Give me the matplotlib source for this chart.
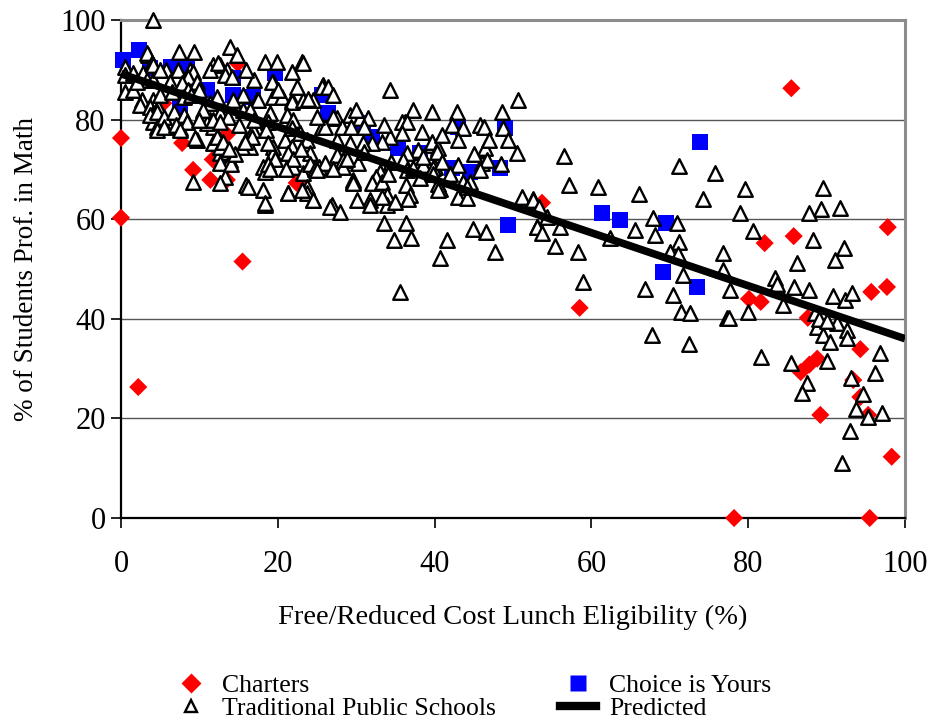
import numpy as np
import matplotlib
matplotlib.use("Agg")
import matplotlib.pyplot as plt
from matplotlib.lines import Line2D

plt.rcParams['font.family'] = ['Liberation Serif', 'DejaVu Serif']

# Charter schools (red diamonds)
charter_x = [0, 0, 2.2, 5.4, 7.8, 9.2, 11.4, 11.7, 13.5, 13.5, 14.9, 15.5, 22.4,
             53.7, 58.5, 85.5, 82.1, 85.8, 97.8, 80.1, 81.6, 87.6, 86.7, 87.8,
             88.8, 89.2, 93.4, 94.3, 95.3, 94.3, 98.3, 78.2, 95.5, 95.7, 97.7]
charter_y = [76.3, 60.3, 26.3, 83.3, 75.3, 69.9, 67.9, 72, 77, 67.9, 91.3, 51.5, 67.3,
             63.3, 42.2, 86.3, 55.2, 56.6, 58.4, 44, 43.4, 40.2, 29.3, 30.8,
             32, 20.7, 27.7, 24.3, 20.7, 33.9, 12.3, 0, 0, 45.4, 46.4]

# Choice is Yours schools (blue squares)
choice_x = [0.3, 2.3, 3.7, 6.4, 8.4, 7.5, 11, 14.3, 14.3, 16.8, 19.6, 25.6, 26.4,
            30.9, 32, 35.3, 38.1, 43, 42.2, 44.5, 48.3, 49, 49.4, 61.4, 63.6,
            69.5, 69.1, 73.5, 73.9]
choice_y = [92, 94, 90.4, 90.6, 90.6, 82.5, 86, 88.3, 85, 84.5, 89.3, 85, 81.3,
            79.3, 76.5, 74.3, 73.3, 78.5, 70.3, 69.5, 70.3, 78.3, 58.8, 61.2, 59.8,
            59.2, 49.4, 46.4, 75.5]

# Traditional public schools (open triangles)
trad_x = [
    4.1, 3.5, 3.3, 7.4, 9.3, 13.9, 14.8, 11.7, 12.6, 18.4, 19.9, 23.1, 21.8, 0.5, 0.5,
    1.5, 2.8, 3.9, 4.1, 5.8, 7.3, 8.8, 9.2, 8.6, 3.3, 4.1, 6.3, 7.8, 9.7, 11.4, 12.4,
    13.5, 13.3, 14.2, 15.6, 17.3, 17.5, 19.4, 19.3, 19.4, 20.5, 21.8, 21.8, 23.2, 24.5,
    23.8, 2.7, 2.4, 4.1, 3.7, 4.1, 4.7, 5.4, 4.1, 7.5, 4.6, 9.7, 9.4, 11.7, 13, 12.6,
    13.7, 11.7, 11.4, 12.6, 13.7, 11.4, 12.2, 14.3, 15.6, 16.5, 16, 16.5, 13.9, 12.6,
    13.3, 12.6, 9.2, 16, 16.2, 18.1, 18.4, 18.1, 18.4, 18.4, 19.4, 19.4, 20.9, 21.8,
    19, 18.8, 21.2, 21.9, 21.8, 22.8, 23.7, 24.1, 21.9, 23.2, 21.3, 23.7, 23.7, 24.5,
    8.5, 16.8, 18.5, 5, 6.5, 8, 8.9, 3.7, 4.6, 5.5, 6.8, 8, 8.4, 4.6, 5.5, 7, 7.5,
    12.2, 12.6, 13, 11, 11.7, 12.6, 15.4, 16.7, 15.8, 18.8, 19.6, 18.8, 19, 21.3, 22,
    21, 23, 24.1, 24.7, 25.3, 14, 14.5, 13.8, 21.3, 23.1, 26.9, 5, 0.5, 1.5, 2, 10,
    10.5, 10, 15, 17, 20, 22.5, 17, 16,
    23.2, 25.8, 25.6, 26.4, 34.3, 37.2, 39.7, 42.9, 48.6, 50.6, 36.2, 35.8, 36.5, 38.4,
    42.2, 43.6, 45.8, 46.3, 48.7, 43, 49.4, 50.5, 46.4, 39.7, 39.7, 40.4, 40.3, 37.9,
    37.9, 36.5, 34.3, 35.8, 33.3, 32, 30.9, 29.2, 27.5, 29.2, 30.5, 31.5, 27.5, 28.2,
    27, 25.6, 26, 25, 29.3, 31, 27.6, 28.3, 26, 25, 28.3, 30.2, 27, 28.8, 29.6, 29.6,
    32.1, 33, 32.5, 36, 36.5, 38.5, 40.1, 38.1, 37.2, 39.8, 41, 39.8, 40.4, 40.7, 43,
    46, 46.7, 43.6, 44.5, 45.8, 51.1, 52.6, 29.6, 32, 33.3, 36.4, 36.9, 33.9, 33.9,
    31.8, 31.8, 30.1, 26.7, 27.9, 24.5, 40.4, 43, 44.1, 44.1, 35, 36.6, 33.3, 53,
    33.6, 36.4, 34.8, 37, 41.6, 40.7, 44.9, 46.6, 47.7, 35.6, 27, 30, 33.5, 41, 47,
    45, 48.5, 42, 38.5, 34.5, 31, 34,
    56.5, 57.1, 60.8, 66.1, 71.2, 75.8, 74.2, 52.6, 53.3, 54.3, 53.1, 53.7, 56, 55.4,
    58.3, 58.9, 62.4, 65.6, 67.9, 68.1, 70.9, 71.2, 70, 71, 71.7, 70.4, 71.4, 72.6,
    66.8, 67.7, 72.4, 76.8, 76.8, 77.7, 77.3, 79.6, 79, 80.6, 77.6, 80, 83.4, 83.7,
    84.4, 85.8, 86.2, 87.8, 88.3, 89.5, 89.3, 87.8, 91.7, 92.2, 91.1, 90.8, 92.3, 93.2,
    88.5, 88.8, 89.5, 90.4, 91.3, 92.6, 92.6, 96.8, 81.6, 85.5, 90, 87.5, 86.9, 96.2,
    93.1, 94.6, 93.8, 95.3, 97.1, 93, 92, 83.7, 89, 90]
trad_y = [
    100, 93, 93.4, 93.6, 93.6, 94.6, 93, 91, 91, 91.6, 91.6, 91.6, 89.6, 90.6, 89,
    89.3, 89.3, 91.4, 91, 90, 90, 90, 89.6, 88.6, 88, 88, 87.6, 87.3, 87.6, 90, 91.4,
    90, 89, 88.6, 85, 84, 84, 87.6, 87.6, 84.6, 84.6, 84, 83.5, 84, 84,
    84.2, 84, 83, 84, 82.5, 81.3, 82.5, 79.3, 79.5, 78.3, 78.5, 75.9, 76.3, 75.3, 74.5, 73.3,
    73.5, 78.5, 79.9, 81.3, 80.5, 83.3, 84.5, 84, 81.9, 81.9, 75.9, 74.5, 71.9, 71.3,
    68.5, 67.3, 67.5, 66.9, 66.5, 70.5, 69.5, 65.9, 62.9, 63.3, 74.5, 73.3, 75.9, 74.5,
    81.3, 79.5, 80.9, 79.9, 78.3, 77.3, 75.9, 73.3, 70.5, 69.3, 65.3, 66.5, 65.3, 63.9,
    86, 77.9, 77.9, 85, 85.5, 84.5, 85, 81, 81.5, 80.5, 81.5, 81, 79.5, 78, 78.5, 79, 78,
    76.5, 74.5, 75.5, 79.3, 80, 79.5, 74.5, 76.5, 75.5, 75.3, 72, 71, 70, 73.3, 72,
    70, 74, 71, 70, 70.5, 71, 73, 74, 65.3, 65.9, 62.9, 90, 85.5, 86, 87.5, 86,
    82, 80, 79, 80, 86, 86.5, 88, 90,
    91.4, 87, 86.5, 86.5, 85.9, 81.9, 81.5, 81.5, 81.5, 84, 79.5, 79.5, 79.5, 77.5,
    78.9, 78.3, 78.9, 78.5, 78.3, 75.9, 75.9, 73.3, 74.3, 74.9, 75.5, 74.3, 73.5, 73.5,
    73.9, 73.3, 76.5, 77.3, 75.5, 75.3, 75.3, 75.3, 75.9, 80.9, 80.3, 80.3, 80.3, 78.5,
    80.5, 78.5, 78.5, 80.5, 78.5, 78.5, 72.9, 71.9, 71.3, 69.9, 70.5, 71.3, 70, 72, 67.5, 67.9,
    67.5, 69.5, 68.5, 71.9, 69.9, 70.9, 70.5, 68.3, 70.3, 70.3, 71.5, 69, 67, 66, 70.9,
    71.3, 71.9, 67.5, 67.5, 69.9, 64.5, 64, 67.3, 67.3, 67.5, 66.9, 64.9, 64.9, 62.9,
    63.9, 62.9, 63.9, 62.5, 61.4, 63.9, 65.9, 64.5, 64.3, 66.5, 63.5, 64, 64.5, 58.4,
    59.2, 59.2, 55.8, 56.2, 55.8, 52.2, 58, 57.4, 53.4, 45.4, 85, 82, 79, 77, 76,
    73, 71, 69, 72.5, 71.5, 73.5, 69,
    72.7, 66.9, 66.5, 65.1, 70.7, 69.3, 64.1, 63.9, 62.5, 60.4, 58.4, 57.2, 58.4, 54.6,
    53.4, 47.4, 56.2, 57.8, 60.2, 56.8, 59.2, 55.4, 53.4, 53, 48.8, 44.8, 41.4, 41.2,
    46, 36.7, 34.9, 53.2, 49.8, 45.8, 40.2, 66.1, 61.2, 57.6, 40.2, 41.4, 48.2, 46.4,
    42.8, 46.4, 51.2, 45.8, 55.8, 66.3, 62, 61.2, 62.2, 54.2, 51.8, 44.6, 43.8, 45.2,
    41.2, 38.4, 36.7, 35.3, 39.2, 37.8, 36.1, 33.1, 32.3, 31.1, 31.5, 27.1, 25.1, 29.1,
    28.1, 24.9, 21.9, 20.3, 21.1, 17.5, 11.1, 47, 40, 39.5]

# Predicted regression line
pred_x = [0, 100]
pred_y = [89.2, 36.0]

fig = plt.figure(figsize=(9.32, 7.22), dpi=100)
ax = fig.add_axes([121 / 932, 1 - 518 / 722, (905 - 121) / 932, (518 - 20) / 722])

ax.scatter(charter_x, charter_y, marker='D', s=85, color='#ff0000', edgecolors='none',
           zorder=3, clip_on=False)
ax.scatter(choice_x, choice_y, marker='s', s=130, color='#0000ff', edgecolors='none',
           zorder=3, clip_on=False)
ax.scatter(trad_x, trad_y, marker='^', s=110, facecolors='white', edgecolors='black',
           linewidths=1.7, zorder=4, clip_on=False)
ax.plot(pred_x, pred_y, color='black', lw=5.5, solid_capstyle='butt', zorder=5)

ax.set_xlim(0, 100)
ax.set_ylim(0, 100)
ax.set_xticks([0, 20, 40, 60, 80, 100])
ax.set_yticks([0, 20, 40, 60, 80, 100])
ax.yaxis.grid(True, color='#555555', lw=1)
ax.set_axisbelow(True)

for side in ['left', 'bottom']:
    ax.spines[side].set_color('black')
    ax.spines[side].set_linewidth(1.6)
for side in ['top', 'right']:
    ax.spines[side].set_color('#8c8c8c')
    ax.spines[side].set_linewidth(2.2)

ax.tick_params(axis='both', direction='out', length=7, width=1.2, labelsize=22)
ax.tick_params(axis='x', pad=16)
ax.tick_params(axis='y', pad=4)

ax.set_xlabel('Free/Reduced Cost Lunch Eligibility (%)', fontsize=20.5, labelpad=19)
ax.set_ylabel('% of Students Prof. in Math', fontsize=19.5, labelpad=15)

handles = [
    Line2D([], [], marker='D', ls='none', color='#ff0000', markersize=10, mec='none'),
    Line2D([], [], marker='^', ls='none', mfc='white', mec='black', markersize=8, mew=1.7),
    Line2D([], [], marker='s', ls='none', color='#0000ff', markersize=12, mec='none'),
    Line2D([], [], color='black', lw=6),
]
labels = ['Charters', 'Traditional Public Schools', 'Choice is Yours', 'Predicted']
fig.legend(handles, labels, loc='center', bbox_to_anchor=(472 / 932, 1 - 697 / 722),
           ncol=2, frameon=False, fontsize=18.5, labelspacing=0.0, handlelength=1.4,
           handletextpad=0.5, columnspacing=2.5, borderpad=0)

fig.savefig('out.png', dpi=100)
